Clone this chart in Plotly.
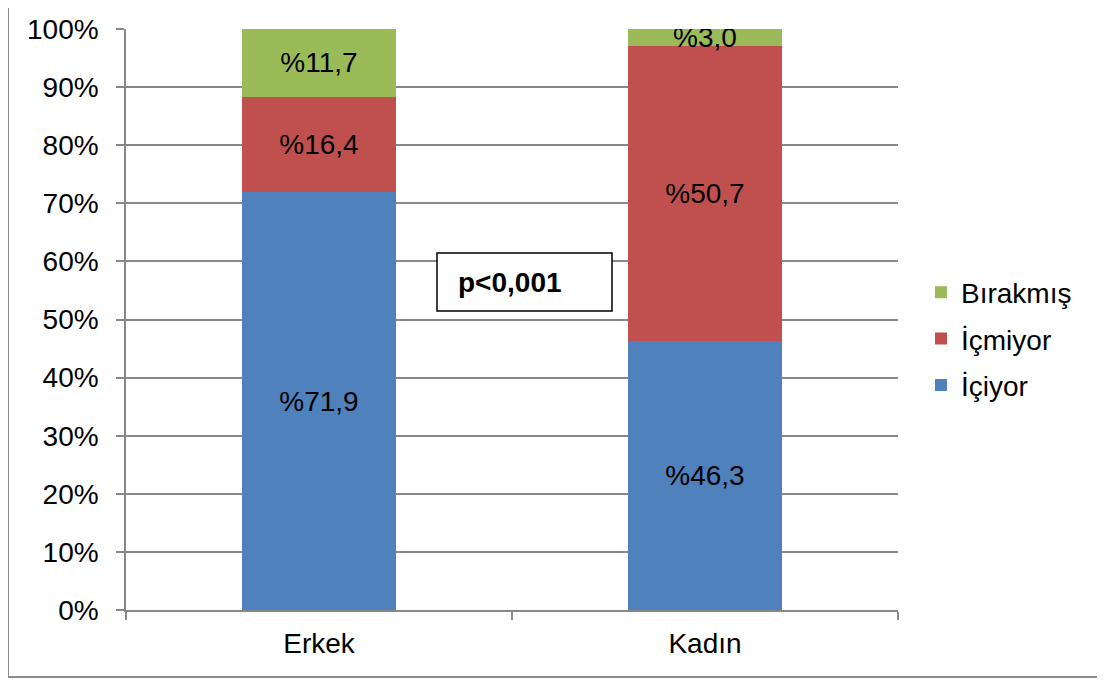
import plotly.graph_objects as go

categories = ["Erkek", "Kadın"]
series_names = ["İçiyor", "İçmiyor", "Bırakmış"]
iciyor = [71.9, 46.3]
icmiyor = [16.4, 50.7]
birakmis = [11.7, 3.0]
series_values = [iciyor, icmiyor, birakmis]
colors = ["#4F81BD", "#C0504D", "#9BBB59"]
p_text = "p<0,001"

OFF = 8  # page body margin
W, H = 1105 - OFF, 680 - OFF
L, R, T, B = 126 - OFF, 207, 29 - OFF, 70
pw, ph = W - L - R, H - T - B

def px_x(x):  # x in reference page pixels
    return (x - OFF - L) / pw

def px_y(y):
    return (H - B - (y - OFF)) / ph

FONT = "Liberation Sans, Arial, sans-serif"
FS = 28

fig = go.Figure()
n = len(series_names)
for i, (name, vals, col) in enumerate(zip(series_names, series_values, colors)):
    fig.add_trace(go.Bar(
        x=categories, y=[v / 100 for v in vals], name=name,
        marker=dict(color=col, line=dict(width=0)),
        text=["%" + f"{v:.1f}".replace(".", ",") for v in vals],
        textposition="inside", insidetextanchor="middle",
        textangle=0, constraintext="none",
        textfont=dict(family=FONT, size=FS, color="black"),
        legendgroup=name, legendrank=1000 + (n - i),
    ))

fig.update_layout(
    width=W, height=H,
    margin=dict(l=L, r=R, t=T, b=B, autoexpand=False),
    barmode="stack", bargap=0.6,
    paper_bgcolor="white", plot_bgcolor="white",
    font=dict(family=FONT, size=FS, color="black"),
    showlegend=True,
    legend=dict(x=px_x(921), y=px_y(339), xanchor="left", yanchor="middle",
                traceorder="grouped", tracegroupgap=7,
                font=dict(family=FONT, size=FS, color="black"),
                bgcolor="rgba(0,0,0,0)"),
    xaxis=dict(showline=True, linecolor="#888888", linewidth=1.5,
               ticks="outside", tickson="boundaries", ticklen=8,
               tickcolor="#888888", tickwidth=1.5, showgrid=False,
               ticklabelstandoff=8,
               tickfont=dict(family=FONT, size=FS, color="black")),
    yaxis=dict(range=[0, 1], tickformat=".0%", dtick=0.1,
               showline=True, linecolor="#888888", linewidth=1.5,
               ticks="outside", ticklen=8, tickcolor="#888888", tickwidth=1.5,
               showgrid=True, gridcolor="#888888", gridwidth=1.5,
               zeroline=False, ticklabelstandoff=12,
               tickfont=dict(family=FONT, size=FS, color="black")),
)

# outer chart border
fig.add_shape(type="rect", xref="paper", yref="paper",
              x0=px_x(8), x1=px_x(1103), y0=px_y(677), y1=px_y(1),
              line=dict(color="#8c8c8c", width=2), fillcolor="rgba(0,0,0,0)",
              layer="below")

# p-value box
fig.add_shape(type="rect", xref="paper", yref="paper",
              x0=px_x(437), x1=px_x(612), y0=px_y(311), y1=px_y(253),
              line=dict(color="black", width=1.5), fillcolor="white",
              layer="above")
fig.add_annotation(xref="paper", yref="paper", x=px_x(510), y=px_y(282),
                   text="<b>" + p_text + "</b>", showarrow=False,
                   font=dict(family=FONT, size=FS, color="black"))

fig.write_html("out.html")
